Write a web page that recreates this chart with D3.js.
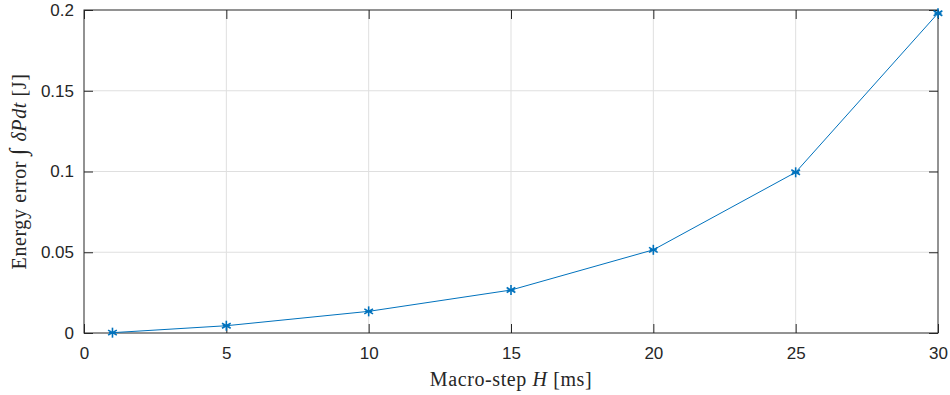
<!DOCTYPE html>
<html>
<head>
<meta charset="utf-8">
<script src="https://cdn.jsdelivr.net/npm/d3@7"></script>
<style>
  body { margin: 0; background: #fff; }
  .tick text { font-family: "Liberation Sans", Arial, sans-serif; font-size: 17px; fill: #262626; }
  .lbl { font-family: "Liberation Serif", "DejaVu Serif", serif; font-size: 20px; fill: #262626; letter-spacing: 0.6px; }
</style>
</head>
<body>
<div id="chart-area"></div>
<script>
// data
const steps = [1, 5, 10, 15, 20, 25, 30];
const energyError = [0.0002, 0.0045, 0.0134, 0.0266, 0.0515, 0.0995, 0.198];
const xTicks = [0, 5, 10, 15, 20, 25, 30];
const yTicks = [0, 0.05, 0.1, 0.15, 0.2];

const margin = {left: 84, right: 12, top: 10, bottom: 62};
const width = 950 - margin.left - margin.right;
const height = 395 - margin.top - margin.bottom;
const axisColor = '#262626';
const lineColor = '#0072BD';

let svg = d3.select('#chart-area')
  .append('svg')
  .attr('width', 950)
  .attr('height', 395);

let g = svg.append('g')
  .attr('transform', `translate(${margin.left}, ${margin.top})`);

const x = d3.scaleLinear().domain([0, 30]).range([0, width]);
const y = d3.scaleLinear().domain([0, 0.2]).range([height, 0]);

// grid
g.append('g').selectAll('line.gx')
  .data(xTicks.slice(1, -1))
  .enter().append('line')
  .attr('x1', d => x(d)).attr('x2', d => x(d))
  .attr('y1', 0).attr('y2', height)
  .attr('stroke', '#dfdfdf').attr('stroke-width', 1);
g.append('g').selectAll('line.gy')
  .data(yTicks.slice(1, -1))
  .enter().append('line')
  .attr('y1', d => y(d)).attr('y2', d => y(d))
  .attr('x1', 0).attr('x2', width)
  .attr('stroke', '#dfdfdf').attr('stroke-width', 1);

// axes (ticks pointing inward)
const xAxisCall = d3.axisBottom(x).tickValues(xTicks).tickSizeInner(-9).tickSizeOuter(0).tickPadding(14);
const yAxisCall = d3.axisLeft(y).tickValues(yTicks).tickSizeInner(-9).tickSizeOuter(0).tickPadding(10)
  .tickFormat(d => d === 0 ? '0' : String(+d.toFixed(2)));

let xAxisGroup = g.append('g').attr('transform', `translate(0, ${height})`).call(xAxisCall);
let yAxisGroup = g.append('g').call(yAxisCall);
[xAxisGroup, yAxisGroup].forEach(ax => {
  ax.select('.domain').remove();
  ax.selectAll('.tick line').attr('stroke', axisColor);
});

// mirrored ticks on top and right
g.append('g').call(d3.axisTop(x).tickValues(xTicks).tickSizeInner(-9).tickSizeOuter(0).tickFormat(''))
  .call(a => { a.select('.domain').remove(); a.selectAll('.tick line').attr('stroke', axisColor); });
g.append('g').attr('transform', `translate(${width}, 0)`)
  .call(d3.axisRight(y).tickValues(yTicks).tickSizeInner(-9).tickSizeOuter(0).tickFormat(''))
  .call(a => { a.select('.domain').remove(); a.selectAll('.tick line').attr('stroke', axisColor); });

// box
g.append('rect')
  .attr('x', 0).attr('y', 0).attr('width', width).attr('height', height)
  .attr('fill', 'none').attr('stroke', axisColor).attr('stroke-width', 1);

// line
const pts = steps.map((s, i) => [s, energyError[i]]);
g.append('path')
  .datum(pts)
  .attr('fill', 'none')
  .attr('stroke', lineColor)
  .attr('stroke-width', 1)
  .attr('d', d3.line().x(d => x(d[0])).y(d => y(d[1])));

// asterisk markers
const r = 5;
const star = g.append('g').selectAll('g.m')
  .data(pts)
  .enter().append('g')
  .attr('transform', d => `translate(${x(d[0])}, ${y(d[1])})`);
[[0, -r, 0, r], [-r * 0.87, -r * 0.5, r * 0.87, r * 0.5], [-r * 0.87, r * 0.5, r * 0.87, -r * 0.5], [-r * 0.7, 0, r * 0.7, 0]]
  .forEach(s => {
    star.append('line')
      .attr('x1', s[0]).attr('y1', s[1]).attr('x2', s[2]).attr('y2', s[3])
      .attr('stroke', lineColor).attr('stroke-width', 1.6);
  });

// X label
const xl = svg.append('text')
  .attr('class', 'lbl')
  .attr('x', margin.left + width / 2)
  .attr('y', 386)
  .attr('text-anchor', 'middle');
xl.append('tspan').text('Macro-step ');
xl.append('tspan').attr('font-style', 'italic').text('H');
xl.append('tspan').text('  [ms]');

// Y label
const yl = svg.append('text')
  .attr('class', 'lbl')
  .attr('transform', `translate(26, ${margin.top + height / 2}) rotate(-90)`)
  .attr('text-anchor', 'middle');
yl.append('tspan').text('Energy error ');
yl.append('tspan').attr('font-size', '24px').text('∫ ');
yl.append('tspan').attr('font-style', 'italic').text('δPdt');
yl.append('tspan').text('  [J]');
</script>
</body>
</html>
